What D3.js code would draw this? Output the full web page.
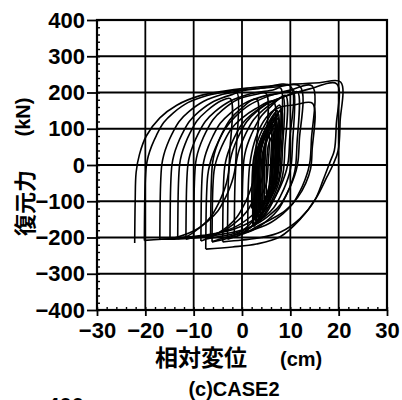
<!DOCTYPE html>
<html>
<head>
<meta charset="utf-8">
<script src="https://cdn.jsdelivr.net/npm/d3@7"></script>
<style>
  html, body { margin: 0; padding: 0; background: #fff; }
  svg { display: block; }
</style>
</head>
<body>
<div id="chart"></div>
<script>
// axis ticks
const xTicks = [-30, -20, -10, 0, 10, 20, 30];
const yTicks = [-400, -300, -200, -100, 0, 100, 200, 300, 400];

// hysteresis loops: [displacement cm, force kN]
const loopA1 = [[-22.2,-215],[-22.1,-100],[-21.9,-20],[-21.2,30],[-19.8,80],[-17,130],[-13.5,165],[-9,190],[-4,203],[1,212],[6,218],[11,223],[16,227],[20.4,229],
  [20.3,120],[19.9,40],[18.8,0],[17.5,-35],[15.3,-92],[12,-150],[7.9,-198],[3,-218],[-2,-226],[-7.5,-232]];
const loopA2 = [[-7.5,-232],[-7.35,-90],[-7.1,-30],[-6.7,0],[-6,30],[-5,62],[-3.5,100],[-1.5,132],[1.5,165],[5.5,190],[10,207],[14.5,218],
  [14.35,68],[14.1,13],[13.7,-14],[13,-42],[12,-72],[10.5,-107],[8.5,-134],[5.5,-162],[1.5,-182],[-3.5,-200],[-6.2,-212]];
const loop03 = [[-20.2,-208],[-20.05,-58],[-19.8,-3],[-19.4,24],[-18.7,52],[-17.7,82],[-16.2,117],[-14.2,144],[-11.2,172],[-7.2,192],[-2.2,204],[3.8,212],[10,218],
  [9.85,68],[9.6,13],[9.2,-14],[8.5,-42],[7.5,-72],[6,-107],[4,-134],[1,-162],[-3,-182],[-8,-194],[-14,-202],[-20.2,-208]];
const loop04 = [[-17,-205],[-16.85,-55],[-16.6,0],[-16.2,27],[-15.5,55],[-14.5,85],[-13,120],[-11,147],[-8,175],[-4,195],[1,207],[7,215],[12,217],
  [11.85,67],[11.6,12],[11.2,-15],[10.5,-43],[9.5,-73],[8,-108],[6,-135],[3,-163],[-1,-183],[-6,-195],[-12,-203],[-17,-205]];
const loop05 = [[-14.9,-205],[-14.75,-55],[-14.5,0],[-14.1,27],[-13.4,55],[-12.4,85],[-10.9,120],[-8.9,147],[-5.9,175],[-1.9,195],[-1,198],
  [-1.15,48],[-1.4,-7],[-1.8,-34],[-2.5,-62],[-3.5,-92],[-5,-127],[-7,-154],[-10,-182],[-14.9,-205]];
const loop06 = [[-13.3,-203],[-13.15,-53],[-12.9,2],[-12.5,29],[-11.8,57],[-10.8,87],[-9.3,122],[-7.3,149],[-4.3,177],[-2.4,183],
  [-2.55,33],[-2.8,-22],[-3.2,-49],[-3.9,-77],[-4.9,-107],[-6.4,-142],[-8.4,-169],[-11.4,-197],[-13.3,-203]];
const loop07 = [[-11.6,-205],[-11.45,-55],[-11.2,0],[-10.8,27],[-10.1,55],[-9.1,85],[-7.6,120],[-5.6,147],[-2.6,175],[1.4,195],[6.4,207],[8,212],
  [7.85,62],[7.6,7],[7.2,-20],[6.5,-48],[5.5,-78],[4,-113],[2,-140],[-1,-168],[-5,-188],[-10,-200],[-11.6,-205]];
const loop08 = [[-8.5,-210],[-8.35,-60],[-8.1,-5],[-7.7,22],[-7,50],[-6,80],[-4.5,115],[-2.5,142],[0.5,170],[4.5,190],[9.5,202],[10.6,208],
  [10.45,58],[10.2,3],[9.8,-24],[9.1,-52],[8.1,-82],[6.6,-117],[4.6,-144],[1.6,-172],[-2.4,-192],[-7.4,-204],[-8.5,-210]];
const loop09 = [[-6.2,-212],[-6.05,-70],[-5.8,-18],[-5.4,8],[-4.7,35],[-3.7,65],[-2.2,100],[-0.2,127],[2.8,155],[6.5,175],
  [6.35,25],[6.1,-30],[5.7,-57],[5,-85],[4,-115],[2.5,-150],[0.5,-177],[-2.5,-200],[-6.2,-212]];
const loop10 = [[-4,-212],[-3.85,-62],[-3.6,-7],[-3.2,20],[-2.5,48],[-1.5,78],[0,113],[2,140],[5,168],[9,190],[14,210],[19.6,224],
  [19.5,110],[19.1,40],[18.2,8],[16.8,-41],[15.1,-96],[12,-148],[8,-185],[4,-200],[0,-207],[-4,-212]];
const loop11 = [[-1.6,-200],[-1.45,-50],[-1.2,5],[-0.8,32],[-0.1,60],[0.9,90],[2.4,125],[4.4,152],[7.4,180],[8.5,188],
  [8.35,38],[8.1,-17],[7.7,-44],[7,-72],[6,-102],[4.5,-137],[2.5,-164],[-0.5,-192],[-1.6,-200]];
const loop12 = [[1.2,-185],[1.3,-60],[1.6,0],[2.5,60],[4,110],[6,145],[8,160],[11,166],[14.6,170],
  [14.5,40],[14.2,-10],[13.2,-50],[11.5,-90],[9,-125],[6,-150],[3,-170],[1.2,-185]];
const loop13 = [[-10,-200],[-9.85,-50],[-9.6,5],[-9.2,32],[-8.5,60],[-7.5,90],[-6,125],[-4,152],[-1,180],[3,195],[5,197],
  [4.85,47],[4.6,-8],[4.2,-35],[3.5,-63],[2.5,-93],[1,-128],[-1,-155],[-4,-183],[-8,-198],[-10,-200]];
const loop14 = [[-3,-205],[-2.85,-55],[-2.6,0],[-2.2,27],[-1.5,55],[-0.5,85],[1,120],[3,147],[6,175],[10,195],[11.5,202],
  [11.35,52],[11.1,-3],[10.7,-30],[10,-58],[9,-88],[7.5,-123],[5.5,-150],[2.5,-178],[-1.5,-198],[-3,-205]];
const loop15 = [[0,-190],[0.15,-40],[0.4,15],[0.8,42],[1.5,70],[2.5,100],[4,135],[6,162],[9,192],
  [8.85,42],[8.6,-13],[8.2,-40],[7.5,-68],[6.5,-98],[5,-133],[3,-160],[0,-190]];
const loop16 = [[-6.5,-200],[-6.35,-50],[-6.1,5],[-5.7,32],[-5,60],[-4,90],[-2.5,125],[-0.5,152],[3,182],
  [2.85,32],[2.6,-23],[2.2,-50],[1.5,-78],[0.5,-108],[-1,-143],[-3,-170],[-6.5,-200]];

// small loops, dense centre
const loopC1 = [[2.2,-165],[2.35,-22],[2.6,30],[3,55],[3.7,82],[4.7,110],[6.2,144],[7.8,165],
  [7.65,22],[7.4,-30],[7,-55],[6.3,-82],[5.3,-110],[3.8,-144],[2.2,-165]];
const loopC2 = [[2.8,-155],[2.95,-17],[3.2,34],[3.6,58],[4.3,84],[5.3,112],[6.8,144],[7.3,150],
  [7.15,12],[6.9,-39],[6.5,-63],[5.8,-89],[4.8,-117],[3.3,-149],[2.8,-155]];
const loopC3 = [[3.3,-145],[3.45,-16],[3.7,31],[4.1,55],[4.8,79],[5.8,104],[7.3,135],[7.6,140],
  [7.45,11],[7.2,-36],[6.8,-60],[6.1,-84],[5.1,-109],[3.6,-140],[3.3,-145]];
const loopC4 = [[3.6,-130],[3.75,-5],[4,40],[4.4,63],[5.1,86],[6.1,111],[6.9,125],
  [6.75,0],[6.5,-45],[6.1,-68],[5.4,-91],[4.4,-116],[3.6,-130]];
const loopC5 = [[2.6,-150],[2.75,-24],[3,22],[3.4,45],[4.1,68],[5.1,94],[6.2,115],
  [6.05,-11],[5.8,-57],[5.4,-80],[4.7,-103],[3.7,-129],[2.6,-150]];
const loopC6 = [[4.1,-110],[4.25,2],[4.5,44],[4.9,64],[5.6,85],[6.6,108],[7.2,120],
  [7.05,8],[6.8,-34],[6.4,-54],[5.7,-75],[4.7,-98],[4.1,-110]];
const loopC7 = [[3,-160],[3.15,-22],[3.4,29],[3.8,53],[4.5,79],[5.5,107],[6.6,130],
  [6.45,-8],[6.2,-59],[5.8,-83],[5.1,-109],[4.1,-137],[3,-160]];
const loopC8 = [[4.6,-95],[4.75,18],[5,59],[5.4,79],[6.1,100],[7.1,122],[7.5,130],
  [7.35,17],[7.1,-24],[6.7,-44],[6,-65],[5,-88],[4.6,-95]];
const loopC9 = [[3.8,-140],[3.95,-17],[4.2,28],[4.6,50],[5.3,73],[6.3,98],[6.4,100],
  [6.25,-23],[6,-68],[5.6,-90],[4.9,-113],[3.9,-138],[3.8,-140]];
const loopC10 = [[5,-80],[5.15,16],[5.4,51],[5.8,68],[6.5,86],[7,95],
  [6.85,-1],[6.6,-36],[6.2,-53],[5.5,-71],[5,-80]];
const loopC11 = [[2,-120],[2.15,-20],[2.4,17],[2.8,35],[3.5,54],[4.5,74],[5.5,90],
  [5.35,-10],[5.1,-47],[4.7,-65],[4,-84],[3,-104],[2,-120]];
const loopC12 = [[3.4,-120],[3.55,2],[3.8,46],[4.2,68],[4.9,91],[5.9,115],[7.4,143],[7.9,150],
  [7.75,28],[7.5,-16],[7.1,-38],[6.4,-61],[5.4,-85],[3.9,-113],[3.4,-120]];
const loopC13 = [[2.4,-170],[2.55,-30],[2.8,21],[3.2,46],[3.9,72],[4.9,100],[6.4,132],[6.9,140],
  [6.75,0],[6.5,-51],[6.1,-76],[5.4,-102],[4.4,-130],[2.9,-162],[2.4,-170]];
const loopC14 = [[4.3,-125],[4.45,6],[4.7,53],[5.1,77],[5.8,101],[6.8,127],[8.2,155],
  [8.05,24],[7.8,-23],[7.4,-47],[6.7,-71],[5.7,-97],[4.3,-125]];
const loopC15 = [[3.1,-135],[3.25,-12],[3.5,33],[3.9,55],[4.6,78],[5.6,103],[6,110],
  [5.85,-13],[5.6,-58],[5.2,-80],[4.5,-103],[3.5,-128],[3.1,-135]];

const loops = [loopA1, loopA2, loop03, loop04, loop05, loop06, loop07, loop08, loop09, loop10,
  loop11, loop12, loop13, loop14, loop15, loop16,
  loopC1, loopC2, loopC3, loopC4, loopC5, loopC6, loopC7, loopC8, loopC9, loopC10, loopC11,
  loopC12, loopC13, loopC14, loopC15];

const width = 402, height = 400;
const latin = "'Liberation Sans', 'Noto Sans CJK JP', sans-serif";
const narrow = "'Liberation Sans Narrow', 'Liberation Sans', sans-serif";

const svg = d3.select("#chart").append("svg")
  .attr("width", width).attr("height", height);

const x = d3.scaleLinear().domain([-30, 30]).range([97, 387]);
const y = d3.scaleLinear().domain([-400, 400]).range([310, 20]);

// grid
const grid = svg.append("g").attr("stroke", "#000").attr("stroke-width", 1.8);
grid.selectAll(".gx").data(xTicks).join("line")
  .attr("x1", d => x(d)).attr("x2", d => x(d))
  .attr("y1", y(-400)).attr("y2", y(400));
grid.selectAll(".gy").data(yTicks).join("line")
  .attr("y1", d => y(d)).attr("y2", d => y(d))
  .attr("x1", x(-30)).attr("x2", x(30));

// minor ticks, inward
svg.append("g").attr("transform", `translate(${x(-30)},0)`)
  .call(d3.axisLeft(y).tickValues(d3.range(-400, 401, 20)).tickSize(-3).tickFormat(""))
  .call(g => g.select(".domain").remove())
  .call(g => g.selectAll("line").attr("stroke-width", 1.4));
svg.append("g").attr("transform", `translate(0,${y(-400)})`)
  .call(d3.axisBottom(x).tickValues(d3.range(-30, 31, 2)).tickSize(-3).tickFormat(""))
  .call(g => g.select(".domain").remove())
  .call(g => g.selectAll("line").attr("stroke-width", 1.4));

// major ticks + labels
const fmt = d3.format("d");
const yAxis = svg.append("g").attr("transform", `translate(${x(-30)},0)`)
  .call(d3.axisLeft(y).tickValues(yTicks).tickSize(10).tickPadding(2).tickFormat(fmt));
const xAxis = svg.append("g").attr("transform", `translate(0,${y(-400)})`)
  .call(d3.axisBottom(x).tickValues(xTicks).tickSize(6).tickPadding(6).tickFormat(fmt));
[yAxis, xAxis].forEach(a => {
  a.select(".domain").remove();
  a.selectAll("line").attr("stroke-width", 1.8);
  a.selectAll("text").attr("font-family", narrow).attr("font-size", 22)
    .attr("font-weight", "bold").attr("fill", "#000");
});

// loops
const line = d3.line()
  .x(d => x(d[0])).y(d => y(d[1]))
  .curve(d3.curveCatmullRom.alpha(0.5));
svg.append("g")
  .selectAll("path")
  .data(loops)
  .join("path")
    .attr("d", line)
    .attr("fill", "none")
    .attr("stroke", "#000")
    .attr("stroke-width", 1.6);

// frame
svg.append("rect")
  .attr("x", x(-30)).attr("y", y(400))
  .attr("width", x(30) - x(-30)).attr("height", y(-400) - y(400))
  .attr("fill", "none").attr("stroke", "#000").attr("stroke-width", 2.2);

// titles
const title = (txt, size) => svg.append("text")
  .attr("font-family", latin).attr("font-size", size).attr("font-weight", "bold")
  .attr("fill", "#000").text(txt);
title("復元力", 22).attr("transform", "translate(33,203) rotate(-90)").attr("text-anchor", "middle");
title("(kN)", 20).attr("transform", "translate(30,117) rotate(-90)").attr("text-anchor", "middle");
title("相対変位", 23).attr("x", 155).attr("y", 366);
title("(cm)", 20).attr("x", 280).attr("y", 366);
title("(c)CASE2", 20).attr("x", 234).attr("y", 396).attr("text-anchor", "middle");

// top of the next panel's label, cut by the page edge as in the source
svg.append("text")
  .attr("x", 84).attr("y", 413)
  .attr("text-anchor", "end")
  .attr("font-family", narrow).attr("font-size", 22).attr("font-weight", "bold")
  .text("400");
</script>
</body>
</html>
